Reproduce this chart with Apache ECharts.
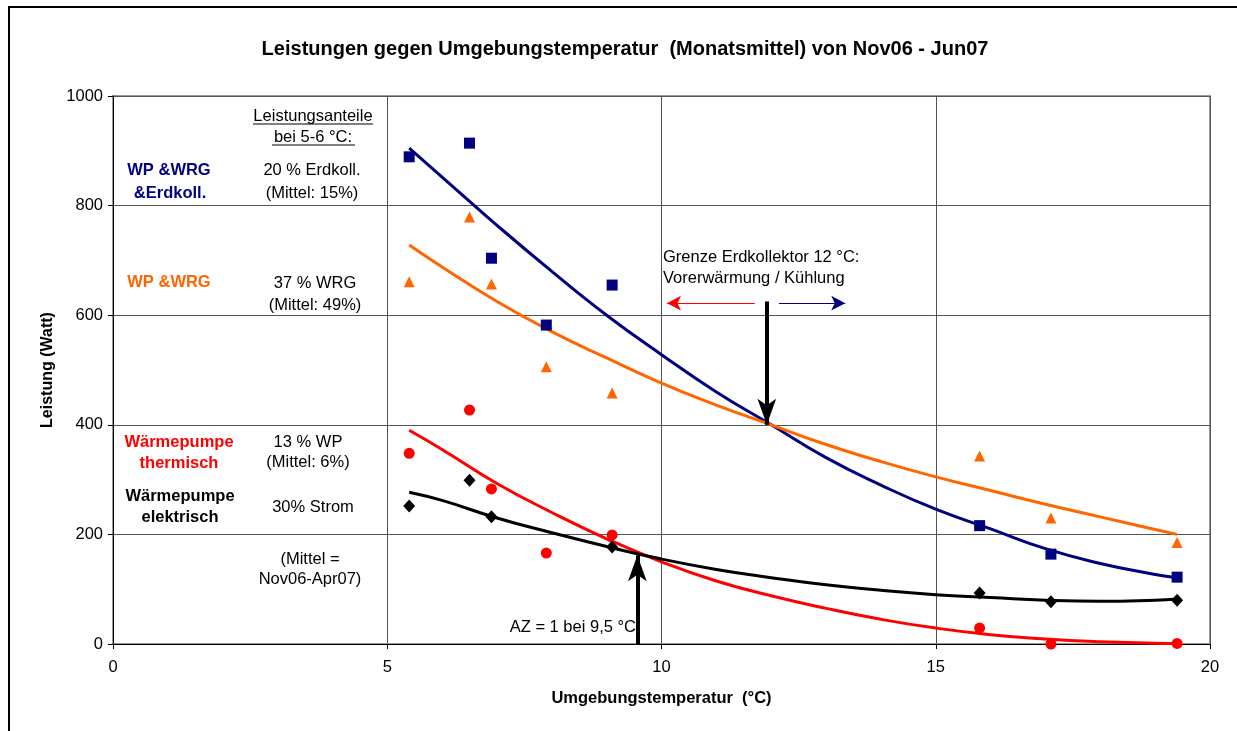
<!DOCTYPE html>
<html>
<head>
<meta charset="utf-8">
<script src="https://cdn.jsdelivr.net/npm/echarts@6/dist/echarts.min.js"></script>
<style>
  html, body { margin: 0; padding: 0; background: #fff; }
  #chart { width: 1237px; height: 731px; }
</style>
</head>
<body>
<div id="chart"></div>
<script>
// Monatsmittel Nov06 - Jun07
var temps = [5.4, 6.5, 6.9, 7.9, 9.1, 15.8, 17.1, 19.4];
var wpWrgErd = [889, 914, 704, 582, 655, 216, 164, 122];
var wpWrg = [661, 779, 657, 506, 458, 343, 230, 185];
var wpTherm = [348, 427, 283, 166, 199, 29, 0, 1];
var wpElek = [252, 299, 232, null, 177, 93, 77, 80];

// Trendlinien
var trendX = [5.4, 6, 7, 8, 9, 10, 11, 12, 13, 14, 15, 16, 17, 18, 19, 19.4];
var trendErd = [905, 852, 764, 680, 600, 528, 460, 400, 340, 290, 246, 210, 174, 147, 127, 121];
var trendWrg = [728, 688, 625, 570, 522, 476, 436, 400, 364, 333, 305, 280, 255, 232, 209, 200];
var trendTherm = [390, 355, 293, 240, 192, 150, 115, 88, 65, 45, 29, 17, 9, 4, 1.5, 1];
var trendElek = [277, 262, 230, 203, 178, 155, 136, 121, 108, 98, 90, 85, 80, 78, 80, 82];

var xTicks = [0, 5, 10, 15, 20];
var yTicks = [0, 200, 400, 600, 800, 1000];

function pairs(xs, ys) {
    var out = [];
    for (var i = 0; i < xs.length; i++) {
        if (ys[i] !== null) out.push([xs[i], ys[i]]);
    }
    return out;
}

var FONT = 'Liberation Sans, Arial, sans-serif';

function txt(x, y, text, color, bold, align) {
    return {
        type: 'text', x: x, y: y, silent: true,
        style: {
            text: text, fill: color || '#000', font: (bold ? 'bold ' : '') + '16.5px ' + FONT,
            align: align || 'center', verticalAlign: 'middle'
        }
    };
}
function uline(x1, x2, y) {
    return { type: 'line', silent: true, shape: { x1: x1, y1: y, x2: x2, y2: y }, style: { stroke: '#000', lineWidth: 1 } };
}

var myChart = echarts.init(document.getElementById('chart'));
myChart.setOption({
    animation: false,
    backgroundColor: '#fff',
    title: {
        text: 'Leistungen gegen Umgebungstemperatur  (Monatsmittel) von Nov06 - Jun07',
        left: 620, top: 34, textAlign: 'center',
        textStyle: { fontFamily: FONT, fontWeight: 'bold', fontSize: 20, color: '#000' }
    },
    grid: {
        left: 113, right: 27, top: 96, bottom: 87,
        show: true, borderColor: '#9a9a9a', borderWidth: 2
    },
    xAxis: {
        type: 'value', min: xTicks[0], max: xTicks[xTicks.length - 1], interval: 5,
        name: 'Umgebungstemperatur  (°C)', nameLocation: 'middle', nameGap: 46,
        nameTextStyle: { fontFamily: FONT, fontWeight: 'bold', fontSize: 16.5, color: '#000' },
        axisLine: { show: true, lineStyle: { color: '#000', width: 1 } },
        axisTick: { show: true, length: 5, lineStyle: { color: '#000' } },
        axisLabel: { fontFamily: FONT, fontSize: 16.5, color: '#000', margin: 15 },
        splitLine: { show: true, lineStyle: { color: '#555', width: 1 } }
    },
    yAxis: {
        type: 'value', min: yTicks[0], max: yTicks[yTicks.length - 1], interval: 200,
        name: 'Leistung (Watt)', nameLocation: 'middle', nameGap: 57,
        nameTextStyle: { fontFamily: FONT, fontWeight: 'bold', fontSize: 16, color: '#000' },
        axisLine: { show: true, lineStyle: { color: '#000', width: 1 } },
        axisTick: { show: true, length: 5, lineStyle: { color: '#000' } },
        axisLabel: { fontFamily: FONT, fontSize: 16.5, color: '#000', margin: 10,
                     formatter: function (v) { return String(v); } },
        splitLine: { show: true, lineStyle: { color: '#555', width: 1 } }
    },
    series: [
        { type: 'line', data: pairs(trendX, trendErd), smooth: true, showSymbol: false, silent: true,
          lineStyle: { color: '#000080', width: 3 }, z: 2 },
        { type: 'line', data: pairs(trendX, trendWrg), smooth: true, showSymbol: false, silent: true,
          lineStyle: { color: '#FF6600', width: 3 }, z: 2 },
        { type: 'line', data: pairs(trendX, trendTherm), smooth: true, showSymbol: false, silent: true,
          lineStyle: { color: '#FF0000', width: 3 }, z: 2 },
        { type: 'line', data: pairs(trendX, trendElek), smooth: true, showSymbol: false, silent: true,
          lineStyle: { color: '#000000', width: 3 }, z: 2 },
        { type: 'scatter', data: pairs(temps, wpWrgErd), symbol: 'rect', symbolSize: 11,
          itemStyle: { color: '#000080', opacity: 1 }, z: 3 },
        { type: 'scatter', data: pairs(temps, wpWrg), symbol: 'triangle', symbolSize: 11,
          itemStyle: { color: '#FF6600', opacity: 1 }, z: 3 },
        { type: 'scatter', data: pairs(temps, wpElek), symbol: 'diamond', symbolSize: [12, 13],
          itemStyle: { color: '#000000', opacity: 1 }, z: 3 },
        { type: 'scatter', data: pairs(temps, wpTherm), symbol: 'circle', symbolSize: 11,
          itemStyle: { color: '#FF0000', opacity: 1 }, z: 3 },
        // Pfeile
        { type: 'line', data: [], z: 4,
          markLine: { silent: true, symbol: ['none', 'arrow'], symbolSize: [11, 14],
            label: { show: false }, lineStyle: { color: '#FF0000', width: 1.2, type: 'solid' },
            data: [[{ coord: [11.7, 622] }, { coord: [10.1, 622] }]] } },
        { type: 'line', data: [], z: 4,
          markLine: { silent: true, symbol: ['none', 'arrow'], symbolSize: [11, 14],
            label: { show: false }, lineStyle: { color: '#000080', width: 1.2, type: 'solid' },
            data: [[{ coord: [12.14, 622] }, { coord: [13.35, 622] }]] } },
        { type: 'line', data: [], z: 5,
          markLine: { silent: true, symbol: ['none', 'arrow'], symbolSize: [14, 26],
            label: { show: false }, lineStyle: { color: '#000', width: 4, type: 'solid' },
            data: [
                [{ coord: [11.92, 625] }, { coord: [11.92, 400] }],
                [{ coord: [9.56, 0] }, { coord: [9.56, 162] }]
            ] } }
    ],
    graphic: [
        { type: 'rect', silent: true, shape: { x: 9, y: 7, width: 1250, height: 740 },
          style: { fill: 'none', stroke: '#000', lineWidth: 2 } },
        txt(313, 116, 'Leistungsanteile'),
        uline(253, 373, 124),
        txt(313, 137, 'bei 5-6 °C:'),
        uline(272, 355, 145),
        txt(169, 170, 'WP &WRG', '#000080', true),
        txt(170, 193, '&Erdkoll.', '#000080', true),
        txt(312, 170, '20 % Erdkoll.'),
        txt(312, 193, '(Mittel: 15%)'),
        txt(169, 282, 'WP &WRG', '#FF6600', true),
        txt(315, 283, '37 % WRG'),
        txt(315, 305, '(Mittel: 49%)'),
        txt(179, 442, 'Wärmepumpe', '#FF0000', true),
        txt(179, 463, 'thermisch', '#FF0000', true),
        txt(308, 442, '13 % WP'),
        txt(308, 462, '(Mittel: 6%)'),
        txt(180, 496, 'Wärmepumpe', '#000', true),
        txt(180, 517, 'elektrisch', '#000', true),
        txt(313, 507, '30% Strom'),
        txt(310, 559, '(Mittel ='),
        txt(310, 579, 'Nov06-Apr07)'),
        txt(663, 257, 'Grenze Erdkollektor 12 °C:', '#000', false, 'left'),
        txt(663, 278, 'Vorerwärmung / Kühlung', '#000', false, 'left'),
        txt(636, 627, 'AZ = 1 bei 9,5 °C', '#000', false, 'right')
    ]
});
</script>
</body>
</html>
